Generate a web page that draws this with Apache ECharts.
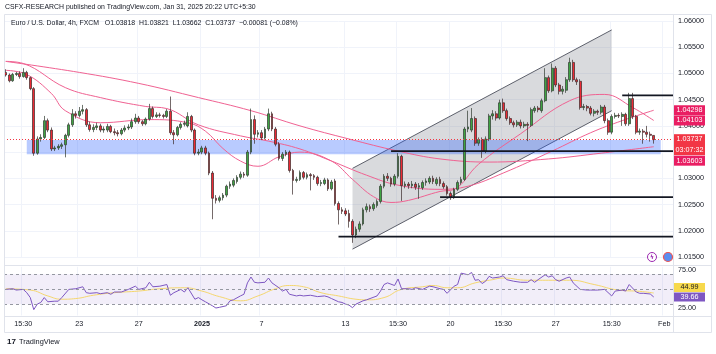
<!DOCTYPE html>
<html>
<head>
<meta charset="utf-8">
<script src="https://cdn.jsdelivr.net/npm/echarts@6/dist/echarts.min.js"></script>
<style>html,body{margin:0;padding:0;background:#fff}#main{width:716px;height:354px}</style>
</head>
<body>
<div id="main"></div>
<script>
// EUR/USD 4h, FXCM  -- each candle is [open, close, low, high]
var candles = [
 [1.0502,1.0497,1.0494,1.0508],[1.0497,1.0486,1.0483,1.0500],[1.0486,1.0498,1.0484,1.0501],[1.0498,1.0500,1.0495,1.0503],
 [1.0500,1.0494,1.0490,1.0504],[1.0494,1.0502,1.0492,1.0510],[1.0502,1.0492,1.0488,1.0505],[1.0492,1.0471,1.0468,1.0494],
 [1.0471,1.0348,1.0343,1.0474],[1.0348,1.0375,1.0345,1.0380],[1.0375,1.0378,1.0370,1.0384],[1.0378,1.0410,1.0375,1.0419],
 [1.0410,1.0392,1.0388,1.0414],[1.0392,1.0356,1.0352,1.0397],[1.0356,1.0358,1.0352,1.0362],[1.0358,1.0361,1.0354,1.0365],
 [1.0361,1.0364,1.0356,1.0368],[1.0364,1.0382,1.0340,1.0385],[1.0382,1.0402,1.0378,1.0406],[1.0402,1.0423,1.0398,1.0432],
 [1.0423,1.0420,1.0414,1.0428],[1.0420,1.0428,1.0416,1.0436],[1.0428,1.0431,1.0422,1.0440],[1.0431,1.0402,1.0398,1.0434],
 [1.0402,1.0393,1.0389,1.0408],[1.0393,1.0397,1.0388,1.0403],[1.0397,1.0400,1.0392,1.0406],[1.0400,1.0392,1.0388,1.0404],
 [1.0392,1.0394,1.0387,1.0399],[1.0392,1.0399,1.0388,1.0404],[1.0399,1.0389,1.0386,1.0402],[1.0389,1.0387,1.0382,1.0395],
 [1.0387,1.0385,1.0380,1.0392],[1.0385,1.0392,1.0382,1.0396],[1.0392,1.0396,1.0388,1.0401],[1.0396,1.0398,1.0392,1.0403],
 [1.0398,1.0408,1.0394,1.0414],[1.0408,1.0415,1.0404,1.0423],[1.0415,1.0408,1.0404,1.0419],[1.0408,1.0404,1.0400,1.0411],
 [1.0404,1.0413,1.0401,1.0416],[1.0413,1.0433,1.0410,1.0442],[1.0433,1.0418,1.0414,1.0437],[1.0418,1.0421,1.0415,1.0426],
 [1.0421,1.0420,1.0416,1.0425],[1.0420,1.0418,1.0414,1.0423],[1.0418,1.0428,1.0415,1.0432],[1.0428,1.0387,1.0383,1.0456],
 [1.0387,1.0383,1.0365,1.0392],[1.0383,1.0397,1.0380,1.0400],[1.0397,1.0403,1.0393,1.0407],[1.0403,1.0405,1.0399,1.0410],
 [1.0400,1.0418,1.0397,1.0426],[1.0418,1.0392,1.0388,1.0421],[1.0392,1.0348,1.0344,1.0395],[1.0348,1.0350,1.0344,1.0356],
 [1.0350,1.0358,1.0346,1.0362],[1.0358,1.0348,1.0344,1.0362],[1.0348,1.0310,1.0306,1.0351],[1.0310,1.0262,1.0222,1.0314],
 [1.0262,1.0258,1.0252,1.0268],[1.0258,1.0263,1.0254,1.0267],[1.0263,1.0268,1.0258,1.0272],[1.0268,1.0285,1.0264,1.0288],
 [1.0285,1.0289,1.0280,1.0294],[1.0287,1.0296,1.0283,1.0300],[1.0294,1.0302,1.0290,1.0306],[1.0302,1.0308,1.0298,1.0313],
 [1.0308,1.0306,1.0301,1.0312],[1.0306,1.0350,1.0303,1.0354],[1.0350,1.0412,1.0346,1.0433],[1.0412,1.0384,1.0366,1.0420],
 [1.0384,1.0387,1.0378,1.0392],[1.0387,1.0377,1.0373,1.0392],[1.0377,1.0394,1.0374,1.0398],[1.0394,1.0423,1.0390,1.0433],
 [1.0423,1.0394,1.0390,1.0427],[1.0394,1.0365,1.0361,1.0398],[1.0365,1.0338,1.0334,1.0369],[1.0338,1.0346,1.0333,1.0350],
 [1.0346,1.0350,1.0342,1.0354],[1.0350,1.0315,1.0311,1.0353],[1.0315,1.0296,1.0269,1.0318],[1.0296,1.0298,1.0292,1.0303],
 [1.0298,1.0311,1.0295,1.0315],[1.0311,1.0302,1.0298,1.0314],[1.0302,1.0307,1.0298,1.0311],[1.0307,1.0305,1.0277,1.0310],
 [1.0305,1.0302,1.0297,1.0308],[1.0302,1.0290,1.0286,1.0305],[1.0290,1.0292,1.0285,1.0297],[1.0290,1.0297,1.0287,1.0301],
 [1.0297,1.0280,1.0276,1.0300],[1.0280,1.0293,1.0277,1.0297],[1.0295,1.0252,1.0248,1.0299],[1.0252,1.0240,1.0212,1.0256],
 [1.0240,1.0237,1.0232,1.0245],[1.0238,1.0232,1.0228,1.0243],[1.0233,1.0218,1.0206,1.0240],[1.0218,1.0192,1.0177,1.0222],
 [1.0192,1.0203,1.0186,1.0208],[1.0203,1.0213,1.0198,1.0218],[1.0213,1.0240,1.0210,1.0244],[1.0240,1.0246,1.0235,1.0252],
 [1.0246,1.0242,1.0236,1.0250],[1.0242,1.0250,1.0238,1.0254],[1.0248,1.0256,1.0244,1.0260],[1.0256,1.0285,1.0252,1.0289],
 [1.0285,1.0304,1.0281,1.0308],[1.0304,1.0300,1.0295,1.0310],[1.0300,1.0289,1.0284,1.0303],[1.0289,1.0304,1.0285,1.0308],
 [1.0304,1.0342,1.0300,1.0348],[1.0342,1.0286,1.0257,1.0345],[1.0286,1.0289,1.0281,1.0294],[1.0289,1.0286,1.0280,1.0293],
 [1.0286,1.0289,1.0281,1.0295],[1.0289,1.0283,1.0278,1.0293],[1.0283,1.0286,1.0261,1.0291],[1.0282,1.0292,1.0278,1.0296],
 [1.0292,1.0295,1.0286,1.0300],[1.0293,1.0300,1.0289,1.0304],[1.0300,1.0294,1.0289,1.0305],[1.0290,1.0298,1.0286,1.0302],
 [1.0298,1.0290,1.0285,1.0303],[1.0290,1.0284,1.0280,1.0294],[1.0284,1.0271,1.0267,1.0287],[1.0271,1.0263,1.0259,1.0275],
 [1.0263,1.0279,1.0261,1.0282],[1.0279,1.0292,1.0276,1.0296],[1.0292,1.0298,1.0288,1.0303],[1.0298,1.0394,1.0295,1.0398],
 [1.0394,1.0398,1.0388,1.0429],[1.0392,1.0414,1.0388,1.0434],[1.0414,1.0367,1.0362,1.0418],[1.0367,1.0374,1.0362,1.0378],
 [1.0374,1.0352,1.0339,1.0378],[1.0352,1.0375,1.0348,1.0380],[1.0375,1.0419,1.0371,1.0423],[1.0419,1.0423,1.0412,1.0430],
 [1.0423,1.0415,1.0410,1.0428],[1.0415,1.0444,1.0412,1.0450],[1.0444,1.0429,1.0425,1.0452],[1.0429,1.0414,1.0410,1.0433],
 [1.0414,1.0406,1.0402,1.0418],[1.0406,1.0402,1.0397,1.0410],[1.0402,1.0407,1.0398,1.0411],[1.0407,1.0400,1.0395,1.0412],
 [1.0400,1.0403,1.0396,1.0408],[1.0403,1.0401,1.0371,1.0407],[1.0401,1.0431,1.0398,1.0435],[1.0429,1.0434,1.0425,1.0438],
 [1.0434,1.0431,1.0426,1.0438],[1.0429,1.0448,1.0425,1.0452],[1.0448,1.0492,1.0445,1.0510],[1.0492,1.0467,1.0463,1.0496],
 [1.0467,1.0510,1.0464,1.0519],[1.0510,1.0478,1.0474,1.0514],[1.0478,1.0466,1.0460,1.0482],[1.0466,1.0470,1.0460,1.0476],
 [1.0468,1.0488,1.0463,1.0493],[1.0488,1.0521,1.0484,1.0530],[1.0521,1.0488,1.0484,1.0526],[1.0488,1.0484,1.0478,1.0492],
 [1.0485,1.0435,1.0431,1.0489],[1.0435,1.0437,1.0430,1.0442],[1.0437,1.0434,1.0428,1.0440],[1.0434,1.0424,1.0420,1.0438],
 [1.0424,1.0428,1.0418,1.0432],[1.0428,1.0426,1.0421,1.0431],[1.0426,1.0436,1.0422,1.0440],[1.0436,1.0410,1.0405,1.0440],
 [1.0410,1.0388,1.0383,1.0414],[1.0388,1.0418,1.0384,1.0422],[1.0418,1.0420,1.0414,1.0425],[1.0420,1.0419,1.0415,1.0424],
 [1.0418,1.0422,1.0400,1.0426],[1.0422,1.0404,1.0400,1.0425],[1.0404,1.0452,1.0400,1.0463],[1.0452,1.0418,1.0413,1.0463],
 [1.0418,1.0388,1.0384,1.0421],[1.0388,1.0390,1.0383,1.0395],[1.0390,1.0388,1.0366,1.0394],[1.0388,1.0384,1.0378,1.0400],
 [1.0384,1.0382,1.0370,1.0389],[1.03818,1.03737,1.03662,1.03821]
];

// slots on the time axis (last ones are the empty right margin)
var slotCount = 191;
var tickIdx  = [5, 21, 38, 56, 73, 97, 112, 127, 142, 157, 173, 188];
var tickText = ['15:30', '23', '27', '2025', '7', '13', '15:30', '20', '15:30', '27', '15:30', 'Feb'];

// moving averages, [slot, price]
var maSlow = [[0,1.0523],[21,1.0502],[38,1.0481],[55,1.0454],[70,1.0429],[84,1.0400],[98,1.0375],[112,1.0352],
  [124,1.0337],[138,1.0331],[155,1.0337],[170,1.0348],[185,1.03603]];
var maMid = [[0,1.0523],[5,1.0519],[17,1.0473],[27,1.0454],[40,1.0437],[46,1.0433],[55,1.0402],[67,1.0381],
  [75,1.0371],[84,1.0356],[93,1.0333],[103,1.0306],[112,1.0287],[124,1.0279],[132,1.0285],[142,1.0310],
  [156,1.0352],[167,1.0387],[176,1.0410],[185,1.04298]];
var maFast = [[0,1.0506],[6,1.0498],[13,1.0462],[17,1.0429],[27,1.0406],[41,1.0412],[52,1.0406],[57,1.0390],
  [62,1.0357],[67,1.0333],[72,1.0323],[78,1.0341],[84,1.0350],[93,1.0333],[99,1.0298],[105,1.0265],
  [110,1.0254],[115,1.0258],[124,1.0275],[128,1.0279],[135,1.0327],[147,1.0385],[161,1.0448],[171,1.0460],
  [179,1.0435],[185,1.04103]];

// RSI pane, [slot, value]
var rsi = [[0,49.8],[2,50.7],[3,48.9],[5,49.8],[6,45.4],[7,38.9],[8,22.8],[9,30.2],[10,32.4],[11,38.9],[12,33.3],
  [14,34.1],[15,34.1],[16,38.9],[18,49.8],[20,50.7],[22,53.3],[23,45.4],[24,44.6],[26,45.4],[27,44.1],[29,45.4],
  [30,43.3],[31,46.3],[33,46.3],[35,49.8],[37,54.1],[38,49.8],[40,52.0],[41,59.3],[42,53.3],[44,54.1],[46,56.3],
  [47,42.0],[48,45.4],[50,49.8],[51,46.3],[52,52.0],[54,36.7],[55,38.9],[56,35.9],[57,33.3],[59,28.0],[60,25.0],
  [61,25.9],[63,28.0],[64,34.6],[65,35.9],[67,41.1],[68,43.3],[69,58.5],[70,66.3],[71,59.3],[72,58.5],[74,59.3],
  [75,65.0],[76,58.5],[78,52.0],[79,47.6],[80,49.8],[81,43.3],[83,41.1],[84,42.0],[85,41.1],[87,42.0],[89,40.2],
  [91,41.1],[92,39.8],[93,37.6],[95,33.3],[96,32.4],[97,30.2],[98,28.9],[99,25.4],[100,30.2],[102,34.6],[103,35.9],
  [104,37.6],[106,41.1],[107,47.6],[108,56.3],[109,58.5],[111,55.0],[112,63.7],[113,50.7],[115,50.7],[116,49.8],
  [117,52.0],[119,49.8],[120,52.0],[121,54.1],[122,53.3],[124,50.7],[125,49.8],[126,44.6],[128,54.1],[129,56.3],
  [130,71.5],[132,69.3],[133,72.4],[134,62.0],[135,62.8],[136,57.6],[137,60.7],[138,67.2],[139,65.0],[141,66.3],
  [142,68.0],[143,62.8],[145,60.7],[147,59.3],[149,59.3],[150,62.8],[151,59.3],[152,62.8],[154,69.3],[155,66.3],
  [156,68.0],[157,62.8],[158,60.7],[160,65.0],[161,66.3],[162,58.5],[164,49.8],[166,48.9],[167,48.9],[169,48.9],
  [171,49.8],[173,41.1],[174,47.6],[176,48.9],[177,47.6],[178,56.3],[180,46.3],[181,44.6],[182,44.6],[184,43.7],
  [185,39.66]];
var rsiMa = [[0,50.7],[7,48.9],[12,41.1],[16,36.7],[20,37.6],[25,42.0],[31,45.4],[38,47.6],[44,50.7],[51,52.0],
  [56,47.6],[61,40.2],[67,34.6],[72,41.1],[77,50.7],[81,55.0],[85,53.3],[90,45.4],[95,41.1],[100,36.7],[103,35.9],
  [108,38.9],[113,49.8],[119,53.3],[122,55.0],[126,52.0],[129,52.0],[134,58.5],[139,62.8],[142,65.0],[149,62.0],
  [155,62.0],[161,62.0],[168,56.3],[175,48.9],[181,47.2],[185,44.99]];
var rsiBands = [70, 50, 30];

// drawings
var zone = [[6, 187, 1.0373, 1.0346]];                          // from slot, to slot, top, bottom
var levels = [[95, 1.0189], [124, 1.0264], [110, 1.0352], [176, 1.0458]];
var channel = [[99, 1.0165, 1.0319, 173, 1.0429, 1.0583]];      // slot, low, high at both ends
var lastPrice = 1.03737;
var countdown = '03:07:32';

var FONT = 'Liberation Sans';
var cats = [];
for (var i = 0; i < slotCount; i++) cats.push(i);
var isTick = function (i) { return tickIdx.indexOf(i) >= 0; };

var chart = echarts.init(document.getElementById('main'));

var option = {
  animation: false,
  backgroundColor: '#ffffff',
  textStyle: { fontFamily: FONT },
  grid: [
    { left: 4, right: 43, top: 21, height: 236, outerBoundsMode: 'none', containLabel: false },
    { left: 4, right: 43, top: 266.75, height: 48.75, outerBoundsMode: 'none', containLabel: false }
  ],
  xAxis: [
    { type: 'category', gridIndex: 0, data: cats, boundaryGap: true,
      axisLine: { show: false }, axisTick: { show: false }, axisLabel: { show: false },
      splitLine: { show: true, interval: isTick, lineStyle: { color: '#f0f3fa', width: 1 } } },
    { type: 'category', gridIndex: 1, data: cats, boundaryGap: true,
      axisLine: { show: false }, axisTick: { show: false },
      splitLine: { show: true, interval: isTick, lineStyle: { color: '#f0f3fa', width: 1 } },
      axisLabel: { show: true, interval: isTick, margin: 5, fontSize: 7.2, color: '#131722', fontFamily: FONT,
        formatter: function (v, i) {
          var k = tickIdx.indexOf(Number(v));
          if (k < 0) return '';
          return tickText[k] === '2025' ? '{b|2025}' : tickText[k];
        },
        rich: { b: { fontWeight: 'bold', fontSize: 7.2, color: '#131722', fontFamily: FONT } } } }
  ],
  yAxis: [
    { type: 'value', gridIndex: 0, position: 'right', min: 1.015, max: 1.06, interval: 0.005,
      axisLine: { show: false }, axisTick: { show: false },
      axisLabel: { margin: 5, fontSize: 7.2, color: '#131722', fontFamily: FONT,
        formatter: function (v) { return v.toFixed(5); } },
      splitLine: { lineStyle: { color: '#f0f3fa', width: 1 } } },
    { type: 'value', gridIndex: 1, position: 'right', min: 15, max: 80, interval: 5,
      axisLine: { show: false }, axisTick: { show: false }, splitLine: { show: false },
      axisLabel: { margin: 5, fontSize: 7.2, color: '#131722', fontFamily: FONT,
        formatter: function (v) { return (Math.abs(v - 75) < 1e-6 || Math.abs(v - 25) < 1e-6) ? v.toFixed(2) : ''; } } }
  ],
  series: [
    { type: 'custom', name: 'channel', xAxisIndex: 0, yAxisIndex: 0, z: 1, silent: true,
      encode: { x: [0, 3], y: [1, 2, 4, 5] }, data: channel,
      renderItem: function (params, api) {
        var p1 = api.coord([api.value(0), api.value(1)]);
        var p2 = api.coord([api.value(0), api.value(2)]);
        var p3 = api.coord([api.value(3), api.value(5)]);
        var p4 = api.coord([api.value(3), api.value(4)]);
        return { type: 'group', children: [
          { type: 'polygon', shape: { points: [p1, p2, p3, p4] }, style: { fill: 'rgba(120,123,134,0.28)' } },
          { type: 'line', shape: { x1: p1[0], y1: p1[1], x2: p4[0], y2: p4[1] }, style: { stroke: '#5d606b', lineWidth: 1 } },
          { type: 'line', shape: { x1: p2[0], y1: p2[1], x2: p3[0], y2: p3[1] }, style: { stroke: '#5d606b', lineWidth: 1 } }
        ] };
      } },
    { type: 'custom', name: 'zone', xAxisIndex: 0, yAxisIndex: 0, z: 2, silent: true,
      encode: { x: [0, 1], y: [2, 3] }, data: zone,
      renderItem: function (params, api) {
        var a = api.coord([api.value(0), api.value(2)]);
        var b = api.coord([api.value(1), api.value(3)]);
        return { type: 'rect', shape: { x: a[0], y: a[1], width: b[0] - a[0], height: b[1] - a[1] },
          style: { fill: 'rgba(41,98,255,0.33)' } };
      } },
    { type: 'line', name: 'maSlow', xAxisIndex: 0, yAxisIndex: 0, data: maSlow, smooth: 0.4, symbol: 'none', z: 3,
      lineStyle: { color: '#f06292', width: 1 },
      markLine: { silent: true, symbol: 'none', precision: 5, label: { show: false },
        lineStyle: { color: '#f23645', type: [1, 2], width: 1 },
        data: [{ yAxis: lastPrice }] } },
    { type: 'line', name: 'maMid', xAxisIndex: 0, yAxisIndex: 0, data: maMid, smooth: 0.4, symbol: 'none', z: 3,
      lineStyle: { color: '#f06292', width: 1 } },
    { type: 'line', name: 'maFast', xAxisIndex: 0, yAxisIndex: 0, data: maFast, smooth: 0.4, symbol: 'none', z: 3,
      lineStyle: { color: '#f06292', width: 1 } },
    { type: 'candlestick', name: 'EURUSD', xAxisIndex: 0, yAxisIndex: 0, data: candles, z: 4,
      barWidth: 2.3,
      itemStyle: { color: '#3fa443', color0: '#ec2a35', borderColor: '#2f3a2f', borderColor0: '#3a2a2a', borderWidth: 0.7 } },
    { type: 'custom', name: 'levels', xAxisIndex: 0, yAxisIndex: 0, z: 5, silent: true,
      encode: { x: 0, y: 1 }, data: levels,
      renderItem: function (params, api) {
        var p = api.coord([api.value(0), api.value(1)]);
        var cs = params.coordSys;
        return { type: 'line', shape: { x1: p[0], y1: p[1], x2: cs.x + cs.width, y2: p[1] },
          style: { stroke: '#131722', lineWidth: 1.8 } };
      } },
    { type: 'line', name: 'RSI', xAxisIndex: 1, yAxisIndex: 1, data: rsi, symbol: 'none', z: 4,
      lineStyle: { color: '#7e57c2', width: 1 },
      markArea: { silent: true, itemStyle: { color: 'rgba(126,87,194,0.1)' },
        data: [[{ yAxis: rsiBands[0] }, { yAxis: rsiBands[2] }]] },
      markLine: { silent: true, symbol: 'none', label: { show: false },
        lineStyle: { color: '#9598a1', type: [3, 3], width: 1 },
        data: rsiBands.map(function (b) { return { yAxis: b }; }) } },
    { type: 'line', name: 'RSI MA', xAxisIndex: 1, yAxisIndex: 1, data: rsiMa, smooth: 0.5, symbol: 'none', z: 3,
      lineStyle: { color: '#f5d76e', width: 1 } }
  ]
};
chart.setOption(option);

// static frame and texts
var frame = [
  { type: 'rect', shape: { x: 4.5, y: 14.5, width: 707, height: 318 }, style: { fill: 'none', stroke: '#e0e3eb', lineWidth: 1 }, z: 50 },
  { type: 'line', shape: { x1: 4.5, y1: 265.5, x2: 711.5, y2: 265.5 }, style: { stroke: '#e0e3eb', lineWidth: 1 }, z: 50 },
  { type: 'line', shape: { x1: 4.5, y1: 316.5, x2: 711.5, y2: 316.5 }, style: { stroke: '#e0e3eb', lineWidth: 1 }, z: 50 },
  { type: 'line', shape: { x1: 673.5, y1: 14.5, x2: 673.5, y2: 332.5 }, style: { stroke: '#e0e3eb', lineWidth: 1 }, z: 50 },
  { type: 'text', left: 5, top: 4, z: 60, style: { text: 'CSFX-RESEARCH published on TradingView.com, Jan 31, 2025 20:22 UTC+5:30',
      fill: '#131722', font: '6.9px "' + FONT + '"' } },
  { type: 'text', left: 11, top: 20, z: 60, style: { text: 'Euro / U.S. Dollar, 4h, FXCM   O1.03818  H1.03821  L1.03662  C1.03737  \u22120.00081 (\u22120.08%)',
      fill: '#131722', font: '6.9px "' + FONT + '"' } },
  { type: 'text', left: 19, top: 338, z: 60, style: { text: 'TradingView', fill: '#131722', font: '7.4px "' + FONT + '"' } },
  { type: 'text', left: 7, top: 337.5, z: 60, style: { text: '17', fill: '#131722', font: 'bold 8px "' + FONT + '"' } },
  { type: 'circle', shape: { cx: 652, cy: 257, r: 4.5 }, style: { fill: '#fff', stroke: '#9c27b0', lineWidth: 1 }, z: 60 },
  { type: 'text', x: 652, y: 257, z: 61, style: { text: '\u03df', fill: '#9c27b0', font: 'bold 6px "DejaVu Sans"', align: 'center', verticalAlign: 'middle' } },
  { type: 'circle', shape: { cx: 668, cy: 257, r: 4.5 }, style: { fill: '#5b8def', stroke: '#ef5350', lineWidth: 1.2 }, z: 60 }
];

function tag(y, h, lines, bg, fg) {
  var els = [{ type: 'rect', shape: { x: 674, y: y - h / 2, width: 31, height: h }, style: { fill: bg }, z: 70 }];
  var step = h / lines.length;
  for (var k = 0; k < lines.length; k++) {
    els.push({ type: 'text', x: 689.5, y: y - h / 2 + step * (k + 0.5), z: 71,
      style: { text: lines[k], fill: fg, font: '7.2px "' + FONT + '"', align: 'center', verticalAlign: 'middle' } });
  }
  return els;
}

var py = function (v) { return chart.convertToPixel({ yAxisIndex: 0 }, v); };
var ry = function (v) { return chart.convertToPixel({ yAxisIndex: 1 }, v); };
var yLast = py(lastPrice);
var y39 = ry(rsi[rsi.length - 1][1]);
var tags = [].concat(
  tag(py(maMid[maMid.length - 1][1]), 10, [maMid[maMid.length - 1][1].toFixed(5)], '#e91e63', '#ffffff'),
  tag(py(maFast[maFast.length - 1][1]), 10, [maFast[maFast.length - 1][1].toFixed(5)], '#e91e63', '#ffffff'),
  tag(yLast + 5, 21, [lastPrice.toFixed(5), countdown], '#f23645', '#ffffff'),
  tag(yLast + 21, 10, [maSlow[maSlow.length - 1][1].toFixed(5)], '#e91e63', '#ffffff'),
  tag(y39 - 9.5, 9, [rsiMa[rsiMa.length - 1][1].toFixed(2)], '#f7d94c', '#131722'),
  tag(y39, 9, [rsi[rsi.length - 1][1].toFixed(2)], '#7e57c2', '#ffffff')
);
chart.setOption({ graphic: frame.concat(tags) });
</script>
</body>
</html>
